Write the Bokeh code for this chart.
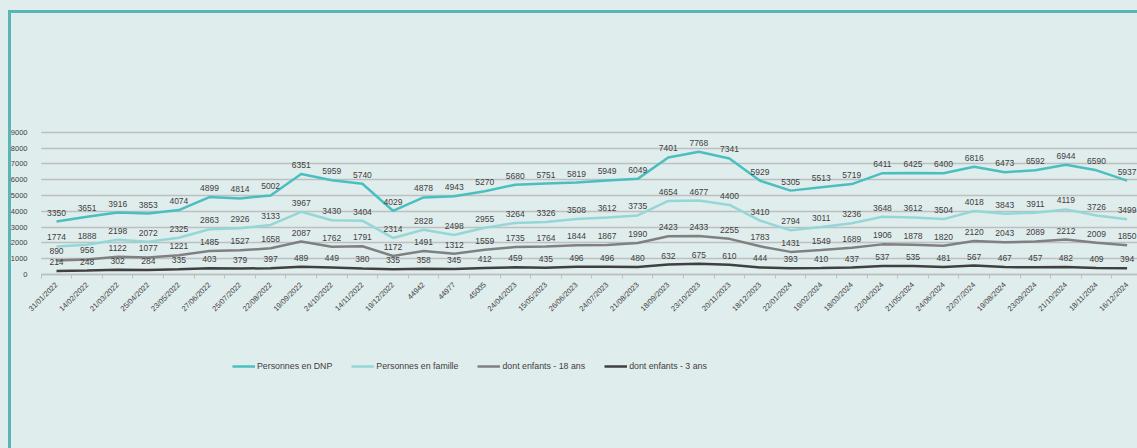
import math
from bokeh.plotting import figure
from bokeh.models import (ColumnDataSource, Range1d, FixedTicker, Legend, LegendItem, BoxAnnotation)
from bokeh.core.properties import value
from bokeh.embed import file_html
from bokeh.resources import INLINE

dates = ["31/01/2022", "14/02/2022", "21/03/2022", "25/04/2022", "23/05/2022", "27/06/2022",
         "25/07/2022", "22/08/2022", "19/09/2022", "24/10/2022", "14/11/2022", "19/12/2022",
         "44942", "44977", "45005", "24/04/2023", "15/05/2023", "26/06/2023", "24/07/2023",
         "21/08/2023", "18/09/2023", "23/10/2023", "20/11/2023", "18/12/2023", "22/01/2024",
         "19/02/2024", "18/03/2024", "22/04/2024", "21/05/2024", "24/06/2024", "22/07/2024",
         "19/08/2024", "23/09/2024", "21/10/2024", "18/11/2024", "16/12/2024"]

personnes_dnp = [3350, 3651, 3916, 3853, 4074, 4899, 4814, 5002, 6351, 5959, 5740, 4029,
                 4878, 4943, 5270, 5680, 5751, 5819, 5949, 6049, 7401, 7768, 7341, 5929,
                 5305, 5513, 5719, 6411, 6425, 6400, 6816, 6473, 6592, 6944, 6590, 5937]
personnes_famille = [1774, 1888, 2198, 2072, 2325, 2863, 2926, 3133, 3967, 3430, 3404, 2314,
                     2828, 2498, 2955, 3264, 3326, 3508, 3612, 3735, 4654, 4677, 4400, 3410,
                     2794, 3011, 3236, 3648, 3612, 3504, 4018, 3843, 3911, 4119, 3726, 3499]
enfants_18 = [890, 956, 1122, 1077, 1221, 1485, 1527, 1658, 2087, 1762, 1791, 1172,
              1491, 1312, 1559, 1735, 1764, 1844, 1867, 1990, 2423, 2433, 2255, 1783,
              1431, 1549, 1689, 1906, 1878, 1820, 2120, 2043, 2089, 2212, 2009, 1850]
enfants_3 = [214, 248, 302, 284, 335, 403, 379, 397, 489, 449, 380, 335,
             358, 345, 412, 459, 435, 496, 496, 480, 632, 675, 610, 444,
             393, 410, 437, 537, 535, 481, 567, 467, 457, 482, 409, 394]

series_names = ["Personnes en DNP", "Personnes en famille", "dont enfants - 18 ans", "dont enfants - 3 ans"]
series_values = [personnes_dnp, personnes_famille, enfants_18, enfants_3]
series_colors = ["#4bbfbf", "#95d7d7", "#808080", "#404040"]
y_ticks = [0, 1000, 2000, 3000, 4000, 5000, 6000, 7000, 8000, 9000]

BG = "#e0eded"
GRID = "#bcc0c0"
BORDER = "#5ab5b8"
x_idx = list(range(len(dates)))
X0 = -0.5

p = figure(width=1137, height=448, output_backend="svg", toolbar_location=None,
           x_range=Range1d(-0.948, 35.34), y_range=Range1d(-7526, 17330),
           min_border_left=27, min_border_right=0, min_border_top=0, min_border_bottom=55)
p.background_fill_alpha = 0
p.border_fill_alpha = 0
p.outline_line_color = None
p.styles = {
    "background": (f"linear-gradient({BORDER},{BORDER}) 8px 10px / 1129px 3px no-repeat, "
                   f"linear-gradient({BORDER},{BORDER}) 8px 10px / 3px 438px no-repeat, {BG}"),
}

p.ygrid.ticker = FixedTicker(ticks=y_ticks)
p.ygrid.grid_line_color = GRID
p.ygrid.grid_line_width = 1.5
p.xgrid.grid_line_color = None

# hide the gridline stubs left of the plot area (behind the y labels)
p.add_layout(BoxAnnotation(right=X0, top=9500, fill_color=BG, fill_alpha=1,
                           line_color=None, level="underlay"))

p.yaxis.ticker = FixedTicker(ticks=y_ticks)
p.yaxis.axis_line_color = None
p.yaxis.major_tick_line_color = None
p.yaxis.minor_tick_line_color = None
p.yaxis.major_label_standoff = -6
p.yaxis.major_label_text_font = "Liberation Sans"
p.yaxis.major_label_text_font_size = "7.5px"
p.yaxis.major_label_text_color = "#404040"

p.xaxis.fixed_location = 0
p.xaxis.bounds = (X0, 36)
p.xaxis.ticker = FixedTicker(ticks=x_idx, minor_ticks=[i - 0.5 for i in range(len(dates) + 1)])
p.xaxis.major_label_overrides = {i: d for i, d in enumerate(dates)}
p.xaxis.major_label_orientation = math.pi / 4
p.xaxis.major_tick_line_color = None
p.xaxis.minor_tick_line_color = GRID
p.xaxis.minor_tick_in = 0
p.xaxis.minor_tick_out = 4
p.xaxis.axis_line_color = GRID
p.xaxis.axis_line_width = 1.5
p.xaxis.major_label_text_font = "Liberation Sans"
p.xaxis.major_label_text_font_size = "7.5px"
p.xaxis.major_label_text_color = "#404040"
p.xaxis.major_label_standoff = 3

items = []
for name, vals, col in zip(series_names, series_values, series_colors):
    src = ColumnDataSource(dict(x=x_idx, y=vals, t=[str(v) for v in vals]))
    r = p.line("x", "y", source=src, line_color=col, line_width=2.5)
    dummy = p.scatter(x=[], y=[], marker="circle", size=6, fill_color=col, line_color=col)
    p.text("x", "y", text="t", source=src, text_align="center", text_baseline="alphabetic",
           y_offset=-9, text_font=value("Liberation Sans"), text_font_size="8.5px",
           text_color="#404040")
    items.append(LegendItem(label=name, renderers=[r, dummy]))

legend = Legend(items=items, orientation="horizontal", location=(205, 21),
                glyph_width=23, glyph_height=12, label_standoff=2, spacing=19,
                padding=0, margin=0, border_line_color=None, background_fill_alpha=0,
                label_text_font="Liberation Sans", label_text_font_size="8.8px",
                label_text_color="#404040")
p.add_layout(legend, "center")

open("out.html", "w").write(file_html(p, INLINE))
